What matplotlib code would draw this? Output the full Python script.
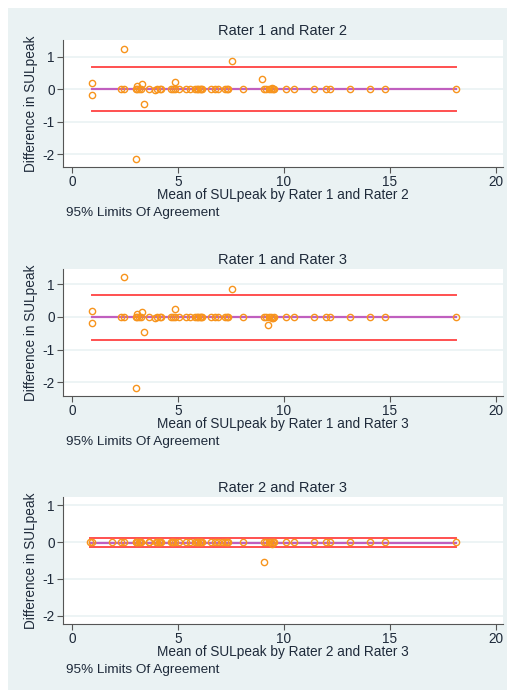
import matplotlib.pyplot as plt
from matplotlib.patches import Rectangle

plt.rcParams["font.family"] = ["Liberation Sans", "DejaVu Sans"]
plt.rcParams["axes.unicode_minus"] = False

# Bland-Altman data
means_12 = [0.93, 0.93, 2.30, 2.45, 2.45, 3.00, 3.02, 3.05, 3.08, 3.18, 3.25, 3.30, 3.40, 3.65,
            3.93, 3.99, 4.15, 4.20, 4.65, 4.78, 4.84, 4.86, 5.06, 5.38, 5.57, 5.80, 5.88, 5.95,
            6.02, 6.08, 6.12, 6.58, 6.75, 6.90, 7.22, 7.30, 7.37, 7.53, 8.05, 8.96, 9.08, 9.15,
            9.30, 9.40, 9.45, 9.50, 9.53, 10.11, 10.49, 11.43, 12.00, 12.17, 13.10, 14.04, 14.77, 18.10]
diffs_12 = [0.19, -0.18, 0, 1.22, 0, 0, -2.16, 0, 0.10, 0, 0, 0.14, -0.45, 0,
            -0.04, 0, 0, 0, 0, 0, 0.23, 0, 0, 0, 0, 0, 0, 0,
            0, 0, 0, 0, 0, 0, 0, 0, 0, 0.86, 0, 0.31, 0, 0,
            0, 0, 0.04, 0, 0, 0, 0, 0, 0, 0, 0, 0, 0, 0]

means_13 = [0.93, 0.93, 2.30, 2.45, 2.45, 3.00, 3.02, 3.05, 3.08, 3.18, 3.25, 3.30, 3.40, 3.65,
            3.93, 3.99, 4.15, 4.20, 4.65, 4.78, 4.84, 4.86, 5.06, 5.38, 5.57, 5.80, 5.88, 5.95,
            6.02, 6.08, 6.12, 6.58, 6.75, 6.90, 7.22, 7.30, 7.37, 7.53, 8.05, 9.23, 9.05, 9.15,
            9.30, 9.40, 9.45, 9.50, 9.53, 10.11, 10.49, 11.43, 12.00, 12.17, 13.10, 14.04, 14.77, 18.10]
diffs_13 = [0.19, -0.18, 0, 1.22, 0, 0, -2.16, 0, 0.10, 0, 0, 0.14, -0.45, 0,
            -0.04, 0, 0, 0, 0, 0, 0.23, 0, 0, 0, 0, 0, 0, 0,
            0, 0, 0, 0, 0, 0, 0, 0, 0, 0.86, 0, -0.24, 0, 0,
            0, 0, -0.03, -0.02, 0, 0, 0, 0, 0, 0, 0, 0, 0, 0]

means_23 = [0.85, 0.97, 2.30, 1.87, 2.45, 3.00, 4.10, 3.05, 3.03, 3.18, 3.25, 3.23, 3.62, 3.65,
            3.95, 3.99, 4.15, 4.20, 4.65, 4.78, 4.72, 4.86, 5.06, 5.38, 5.57, 5.80, 5.88, 5.95,
            6.02, 6.08, 6.12, 6.58, 6.75, 6.90, 7.22, 7.30, 7.37, 7.10, 8.05, 9.08, 9.05, 9.15,
            9.30, 9.40, 9.45, 9.50, 9.53, 10.11, 10.49, 11.43, 12.00, 12.17, 13.10, 14.04, 14.77, 18.10]
diffs_23 = [0, 0, 0, 0, 0, 0, 0, 0, 0, 0, 0, 0, 0, 0,
            0, 0, 0, 0, 0, 0, 0, 0, 0, 0, 0, 0, 0, 0,
            0, 0, 0, 0, 0, 0, 0, 0, 0, 0, 0, -0.55, 0, 0,
            0, 0, -0.05, 0, 0, 0, 0, 0, 0, 0, 0, 0, 0, 0]

# mean difference and 95% limits of agreement
bias = [0.005, 0.0, -0.01]
upper_loa = [0.69, 0.68, 0.12]
lower_loa = [-0.68, -0.69, -0.14]

pairs = ["Rater 1 and Rater 2", "Rater 1 and Rater 3", "Rater 2 and Rater 3"]
panel_means = [means_12, means_13, means_23]
panel_diffs = [diffs_12, diffs_13, diffs_23]
y_limits = [(-2.4, 1.51), (-2.42, 1.47), (-2.23, 1.23)]
x_limits = (-0.42, 20.33)

W, H = 507, 690
BG = "#eaf2f3"
TXT = "#1e2a3a"
fig = plt.figure(figsize=(W / 100, H / 100), dpi=100)
fig.patch.set_facecolor("white")
fig.patches.append(Rectangle((8 / W, 0), 1 - 8 / W, 1 - 8 / H, transform=fig.transFigure,
                             facecolor=BG, edgecolor="none", zorder=-10))


def fx(px):
    return px / W


def fy(py):
    return 1 - py / H


# pixel boxes: (left, right, top, bottom) of each plot region
boxes = [(63, 503, 40, 167), (63, 503, 269, 396), (63, 503, 497, 624)]

for i, (l, r, t, b) in enumerate(boxes):
    ax = fig.add_axes([fx(l), fy(b), fx(r) - fx(l), fy(t) - fy(b)])
    ax.set_facecolor("white")
    ax.set_xlim(*x_limits)
    ax.set_ylim(*y_limits[i])
    ax.set_xticks([0, 5, 10, 15, 20])
    ax.set_yticks([-2, -1, 0, 1])
    ax.grid(axis="y", color=BG, linewidth=1.2)
    ax.set_axisbelow(True)
    for s in ["top", "right"]:
        ax.spines[s].set_visible(False)
    for s in ["left", "bottom"]:
        ax.spines[s].set_color("#555555")
        ax.spines[s].set_linewidth(0.8)
    ax.tick_params(direction="out", length=4, width=0.8, color="#555555",
                   labelsize=9.8, labelcolor=TXT, pad=2)

    xm = panel_means[i]
    lo, hi = min(xm), max(xm)
    ax.plot([lo, hi], [upper_loa[i]] * 2, color="#ff5050", linewidth=1.4, zorder=2)
    ax.plot([lo, hi], [lower_loa[i]] * 2, color="#ff5050", linewidth=1.4, zorder=2)
    ax.plot([lo, hi], [bias[i]] * 2, color="#c05fbf", linewidth=1.6, zorder=3)
    ax.plot(xm, panel_diffs[i], linestyle="none", marker="o", markersize=4.5,
            markerfacecolor="none", markeredgecolor="#f7941d", markeredgewidth=1.0, zorder=4)

    cx = (l + r) / 2
    fig.text(fx(cx), fy(t - 9), pairs[i], ha="center", va="center", fontsize=10.5, color=TXT)
    fig.text(fx(31), fy((t + b) / 2), "Difference in SULpeak", rotation=90,
             ha="center", va="center", fontsize=9.8, color=TXT)
    fig.text(fx(cx), fy(b + 28), "Mean of SULpeak by " + pairs[i], ha="center", va="center",
             fontsize=9.8, color=TXT)
    fig.text(fx(66), fy(b + 46), "95% Limits Of Agreement", ha="left", va="center",
             fontsize=9.7, color=TXT)

fig.savefig("out.png", dpi=100, facecolor=fig.get_facecolor())
